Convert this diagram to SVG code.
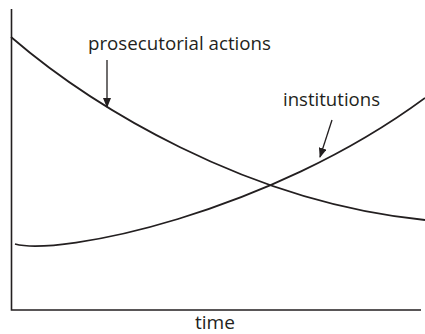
<svg xmlns="http://www.w3.org/2000/svg" width="425" height="334" viewBox="0 0 425 334">
<style>
.ln{fill:none;stroke:#231f20;stroke-width:1.8}
.ax{fill:none;stroke:#231f20;stroke-width:1.6}
.ar{fill:none;stroke:#231f20;stroke-width:1.3}
.t{font-family:"Open Sans","Noto Sans",sans-serif;font-size:18.5px;fill:#231f20}
</style>
<defs>
<marker id="ah" markerWidth="10" markerHeight="8" refX="9" refY="4" orient="auto" markerUnits="userSpaceOnUse">
<path d="M0,0 L10,4 L0,8 Z" fill="#231f20"/>
</marker>
</defs>
<g id="axes">
<path class="ax" d="M11.5,9 V310 H421"/>
</g>
<g id="curves">
<path id="prosecutorial-curve" class="ln" d="M11,37 C90,105 245,202 425,220"/>
<path id="institutions-curve" class="ln" d="M15,244 C60,256 268,214 425,98"/>
</g>
<g id="connectors">
<path class="ar" d="M107,60 V107" marker-end="url(#ah)"/>
<path class="ar" d="M332,120 L320,157" marker-end="url(#ah)"/>
</g>
<g id="labels">
<text class="t" x="88" y="50" textLength="183" lengthAdjust="spacingAndGlyphs">prosecutorial actions</text>
<text class="t" x="283" y="106" textLength="97" lengthAdjust="spacingAndGlyphs">institutions</text>
<text class="t" x="195" y="329" textLength="40" lengthAdjust="spacingAndGlyphs">time</text>
</g>
</svg>
